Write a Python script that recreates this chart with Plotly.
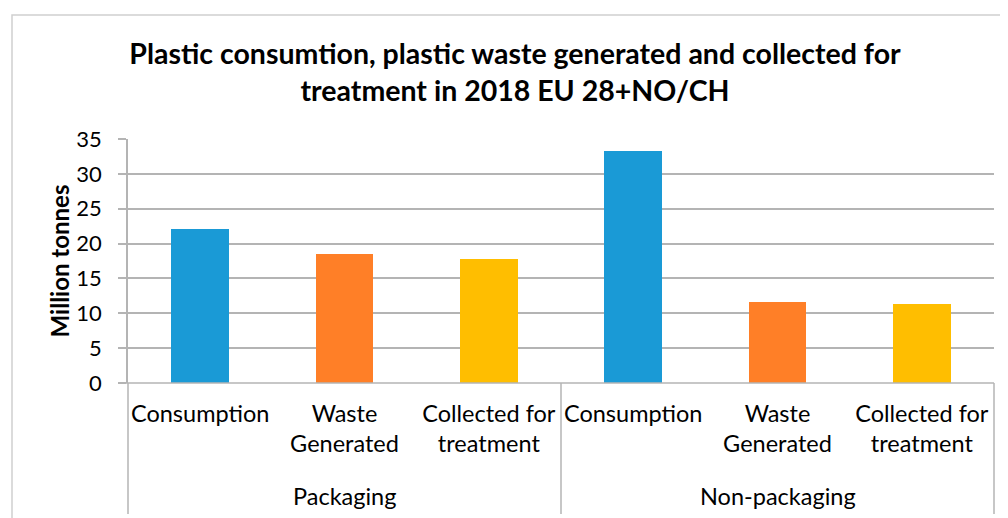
import plotly.graph_objects as go

# ---- data ----
groups = ["Packaging", "Packaging", "Packaging", "Non-packaging", "Non-packaging", "Non-packaging"]
categories = ["Consumption", "Waste<br>Generated", "Collected for<br>treatment",
              "Consumption", "Waste<br>Generated", "Collected for<br>treatment"]
values = [22.1, 18.5, 17.8, 33.3, 11.6, 11.3]
bar_colors = ["#1A9AD6", "#FF7F27", "#FFBE00", "#1A9AD6", "#FF7F27", "#FFBE00"]
group_names = ["Packaging", "Non-packaging"]
y_ticks = [0, 5, 10, 15, 20, 25, 30, 35]

title_text = ("Plastic consumtion, plastic waste generated and collected for<br>"
              "treatment in 2018 EU 28+NO/CH")

positions = list(range(len(values)))

FONT = "Lato"
GRID = "#B4B4B4"
OFF = 8  # page body margin

fig = go.Figure()
fig.add_trace(go.Bar(
    x=positions, y=values, width=0.4,
    marker=dict(color=bar_colors, line=dict(width=0)),
    hoverinfo="y", showlegend=False,
))

W, H = 1008 - OFF, 518 - OFF
# target plot-area edges in screenshot pixels
L, R, T, B = 128, 994, 139, 383
fig.update_layout(
    width=W, height=H,
    margin=dict(l=L - OFF, r=W - (R - OFF), t=T - OFF, b=H - (B - OFF), autoexpand=False),
    paper_bgcolor="white", plot_bgcolor="white",
    font=dict(family=FONT, color="#000000", size=22),
    title=dict(text=title_text, x=(515 - OFF) / W, xanchor="center",
               y=1 - (64 - OFF) / H, yanchor="top",
               font=dict(family=FONT, size=28.5, color="#000000", weight="bold")),
    bargap=0,
)

fig.update_xaxes(
    range=[-0.5, len(values) - 0.5], tickmode="array",
    tickvals=positions, ticktext=categories,
    showgrid=False, zeroline=False, showline=False, ticks="",
    ticklabelstandoff=14,
    tickfont=dict(family=FONT, size=23.5, color="#000000"),
    automargin=False, fixedrange=True,
)
fig.update_yaxes(
    range=[0, 35], tickmode="array", tickvals=y_ticks,
    showgrid=True, gridcolor=GRID, gridwidth=1.5,
    zeroline=False, showline=True, linecolor=GRID, linewidth=1.5,
    ticks="outside", ticklen=8, tickcolor=GRID, tickwidth=1.5,
    ticklabelstandoff=12,
    tickfont=dict(family=FONT, size=22, color="#000000"),
    title=dict(text="<b>Million tonnes</b>", standoff=0,
               font=dict(family=FONT, size=24, color="#000000")),
    automargin=False, fixedrange=True,
)

pw = R - L
ph = B - T

def px_x(p):
    return (p - L) / pw

def px_y(p):
    return (B - p) / ph

shapes = []
# x axis baseline
shapes.append(dict(type="line", xref="paper", yref="paper", x0=px_x(L - 8), x1=1, y0=0, y1=0,
                   line=dict(color=GRID, width=1.5)))
# multi-level category dividers
for xp in [0, 0.5, 1]:
    shapes.append(dict(type="line", xref="paper", yref="paper", x0=xp, x1=xp,
                       y0=0, y1=px_y(514), line=dict(color=GRID, width=1.5)))
# chart area border
shapes.append(dict(type="rect", xref="paper", yref="paper",
                   x0=px_x(12), x1=px_x(1040), y0=px_y(560), y1=px_y(15),
                   line=dict(color="#D0D0D0", width=1.5), fillcolor="rgba(0,0,0,0)"))
fig.update_layout(shapes=shapes)

# group labels (second level of category axis)
for gi, g in enumerate(group_names):
    idx = [i for i, gg in enumerate(groups) if gg == g]
    fig.add_annotation(x=sum(idx) / len(idx), xref="x", y=px_y(496), yref="paper",
                       text=g, showarrow=False, xanchor="center", yanchor="middle",
                       font=dict(family=FONT, size=23.5, color="#000000"))

fig.write_html("out.html")
